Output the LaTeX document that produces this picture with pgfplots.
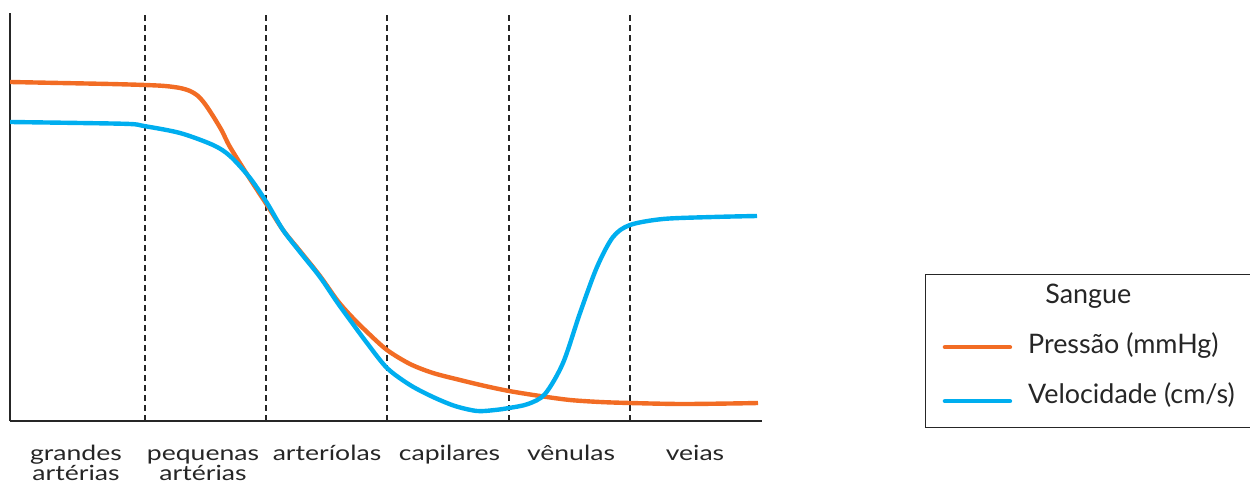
\documentclass[border=0pt]{standalone}
\usepackage{pgfplots}
\pgfplotsset{compat=1.18}
\usepackage{fontspec}
\setmainfont{Lato}
\newfontfamily\lblfont{Lato}[FakeStretch=1.27]
\definecolor{pres}{RGB}{242,108,36}
\definecolor{velo}{RGB}{0,174,239}
\newcommand{\hr}{\rule{0pt}{7.6bp}}
\begin{document}
\begin{tikzpicture}
\path[use as bounding box] (0,0) rectangle (625bp,242bp);
\begin{axis}[
  at={(5bp,31.5bp)}, anchor=south west,
  scale only axis, width=376bp, height=204bp,
  xmin=10, xmax=762, ymin=63, ymax=471,
  axis x line=bottom, axis y line=left,
  axis line style={-, line width=0.9bp, black!85},
  ytick=\empty,
  xtick={76,203,327,449.5,571,695},
  xticklabels={{\hr grandes\\artérias},{\hr pequenas\\artérias},{\hr arteríolas},{\hr capilares},{\hr vênulas},{\hr veias}},
  major tick length=0pt,
  xticklabel style={align=center, font=\lblfont\fontsize{10.5}{10}\selectfont, text=black!85, inner sep=0pt, yshift=-12bp},
  legend style={at={(1.2168,0.3603)}, anchor=north west, draw=black!85, line width=0.7bp,
    inner xsep=8.5bp, inner ysep=4.5bp, row sep=11.5bp, column sep=8bp,
    font=\fontsize{13.5}{15}\selectfont, text=black!85,
    nodes={inner sep=0pt, text height=10bp, text depth=3.5bp}},
  legend cell align=left,
  legend image code/.code={\draw[#1, line width=2.2bp, line cap=round] (0bp,0bp) -- (32.5bp,0bp);},
]
\addlegendimage{empty legend}
\addlegendentry{\hspace*{8.6bp}Sangue}
\addplot[black!85, line width=0.7bp, dash pattern=on 3bp off 2bp, forget plot] coordinates {(145,63) (145,471)};
\addplot[black!85, line width=0.7bp, dash pattern=on 3bp off 2bp, forget plot] coordinates {(266,63) (266,471)};
\addplot[black!85, line width=0.7bp, dash pattern=on 3bp off 2bp, forget plot] coordinates {(387,63) (387,471)};
\addplot[black!85, line width=0.7bp, dash pattern=on 3bp off 2bp, forget plot] coordinates {(509,63) (509,471)};
\addplot[black!85, line width=0.7bp, dash pattern=on 3bp off 2bp, forget plot] coordinates {(630,63) (630,471)};
\addplot[pres, line width=2.2bp, smooth, tension=0.5] coordinates {
(10,402) (60,401) (110,400) (145,399) (165,398) (180,396) (190,393) (198,388) (205,380) (213,368) (222,353) (230,337) (250,305) (267,279) (283,254) (300,233) (320,208) (337,184) (350,169) (367,152) (387,134) (410,120) (433,111) (460,104) (485,98) (509,93) (540,88) (570,84) (600,82) (630,81) (680,80) (730,80.5) (758,81)};
\addlegendentry{Pressão (mmHg)}
\addplot[velo, line width=2.2bp, smooth, tension=0.5] coordinates {
(10,362) (80,361) (130,360) (144,358) (180,351) (213,339) (230,328) (250,306) (267,281) (283,254) (300,232) (320,207) (337,182) (350,164) (367,141) (387,116) (410,99) (433,87) (455,78) (477,73) (495,74) (509,76) (528,80) (545,90) (563,121) (580,171) (597,217) (613,247) (630,259) (663,265) (713,267) (757,268)};
\addlegendentry[text depth=7.5bp]{Velocidade (cm/s)}
\end{axis}
\end{tikzpicture}
\end{document}
